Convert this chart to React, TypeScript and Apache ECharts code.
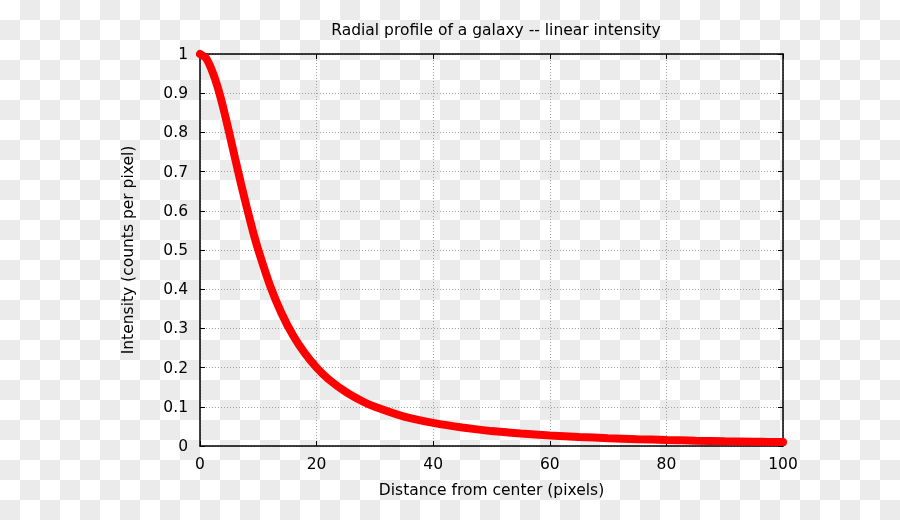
import React, { useEffect, useRef } from "react";
import * as echarts from "echarts";

const titleText = "Radial profile of a galaxy -- linear intensity";
const xAxisName = "Distance from center (pixels)";
const yAxisName = "Intensity (counts per pixel)";

const radius = [0, 1, 2, 3, 4, 5, 6, 7, 8, 9, 10, 12, 14, 16, 18, 20, 22, 25, 28, 30, 35, 40, 45, 50, 55, 60, 65, 70, 75, 80, 85, 90, 95, 100];
const intensity = [1.0, 0.99, 0.96, 0.917, 0.862, 0.8, 0.735, 0.671, 0.61, 0.552, 0.5, 0.41, 0.338, 0.281, 0.236, 0.2, 0.171, 0.138, 0.113, 0.1, 0.075, 0.059, 0.047, 0.038, 0.032, 0.027, 0.023, 0.02, 0.0175, 0.0154, 0.0137, 0.0122, 0.011, 0.0099];

const FONT = "DejaVu Sans";
const FS = 15.5;

export default function App() {
  const ref = useRef<HTMLDivElement>(null);
  useEffect(() => {
    if (!ref.current) return;
    const chart = echarts.init(ref.current, undefined, { renderer: "svg" });
    const data = radius.map((r, i) => [r, intensity[i]]);
    const axisLine = { show: true, onZero: false, lineStyle: { color: "#000", width: 1.5 } };
    const tick = { show: true, inside: true, length: 5, lineStyle: { color: "#000", width: 1 } };
    const grid = { show: true, lineStyle: { color: "#a0a0a0", width: 1, type: [1, 2] as any } };
    chart.setOption({
      animation: false,
      backgroundColor: "transparent",
      textStyle: { fontFamily: FONT },
      title: {
        text: titleText,
        left: 491,
        top: 17,
        textAlign: "center",
        textStyle: { fontFamily: FONT, fontSize: FS, fontWeight: "normal", color: "#000" },
      },
      grid: { left: 200, top: 54, width: 583, height: 392, containLabel: false },
      xAxis: [
        {
          type: "value",
          min: 0,
          max: 100,
          interval: 20,
          position: "bottom",
          name: xAxisName,
          nameLocation: "middle",
          nameGap: 36,
          nameTextStyle: { fontFamily: FONT, fontSize: FS, color: "#000" },
          axisLine,
          axisTick: tick,
          axisLabel: { fontFamily: FONT, fontSize: FS, color: "#000", margin: 10 },
          splitLine: grid,
        },
        {
          type: "value",
          min: 0,
          max: 100,
          interval: 20,
          position: "top",
          axisLine,
          axisTick: tick,
          axisLabel: { show: false },
          splitLine: { show: false },
        },
      ],
      yAxis: [
        {
          type: "value",
          min: 0,
          max: 1,
          interval: 0.1,
          position: "left",
          name: yAxisName,
          nameLocation: "middle",
          nameGap: 64,
          nameRotate: 90,
          nameTextStyle: { fontFamily: FONT, fontSize: FS, color: "#000" },
          axisLine,
          axisTick: tick,
          axisLabel: { fontFamily: FONT, fontSize: FS, color: "#000", margin: 12 },
          splitLine: grid,
        },
        {
          type: "value",
          min: 0,
          max: 1,
          interval: 0.1,
          position: "right",
          axisLine,
          axisTick: tick,
          axisLabel: { show: false },
          splitLine: { show: false },
        },
      ],
      series: [
        {
          type: "line",
          data,
          xAxisIndex: 0,
          yAxisIndex: 0,
          showSymbol: false,
          symbol: "none",
          smooth: 0.15,
          clip: false,
          lineStyle: { color: "#ff0000", width: 8, cap: "round" },
          z: 5,
        },
      ],
    });
    return () => chart.dispose();
  }, []);
  return (
    <div
      ref={ref}
      style={{
        position: "fixed",
        left: 0,
        top: 0,
        width: 900,
        height: 520,
        background: "repeating-conic-gradient(#ebebeb 0 25%, #ffffff 0 50%) 0 0 / 40px 40px",
      }}
    />
  );
}
